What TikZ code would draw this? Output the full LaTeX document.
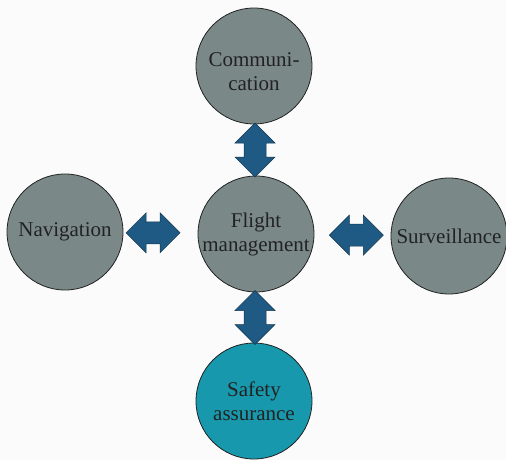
\documentclass[tikz,border=0pt]{standalone}
\usepackage{fontspec}
\setmainfont{Liberation Serif}
\usetikzlibrary{calc}
\definecolor{circgray}{RGB}{122,136,136}
\definecolor{circteal}{RGB}{24,152,172}
\definecolor{arrowblue}{RGB}{30,90,132}
\definecolor{inkdark}{RGB}{34,34,34}
\begin{document}
\begin{tikzpicture}[x=1pt,y=-1pt,
  topic/.style={circle,draw=inkdark,line width=0.8pt,fill=circgray,
    minimum size=116pt,inner sep=0pt,align=center,text=inkdark,
    font=\fontsize{21}{24}\selectfont},
  caption/.style={align=center,text=inkdark,inner sep=0pt,
    font=\fontsize{21}{24}\selectfont},
  blockarrow/.pic={
    \filldraw[fill=arrowblue,draw=arrowblue!60!black,line width=0.5pt]
      (-27,0) -- (-7,-20) -- (-7,-11) -- (7,-11) -- (7,-20) -- (27,0)
      -- (7,20) -- (7,11) -- (-7,11) -- (-7,20) -- cycle;}]
  \fill[white!97!gray] (0,0) rectangle (506,460);
  \useasboundingbox (0,0) rectangle (506,460);
  % the five circles
  \node[topic] (comm) at (254,66) {};
  \node[caption] (commtext) at ($(comm)+(0,6)$) {Communi-\\cation};
  \node[topic] (fm)   at (256,234) {Flight\\management};
  \node[topic] (nav)  at (65,232) {Navigation};
  \node[topic] (surv) at (449,236) {Surveillance};
  \node[topic,fill=circteal] (safe) at (254,401) {Safety\\assurance};
  % block arrows between the centre and each outer circle
  \pic[rotate=90] at ($(comm.south)!0.5!(fm.north)$) {blockarrow};
  \pic[rotate=90] at ($(fm.south)!0.5!(safe.north)$) {blockarrow};
  \pic at ($(nav.east)!0.4!(fm.west)$) {blockarrow};
  \pic at ($(fm.east)!0.55!(surv.west)$) {blockarrow};
\end{tikzpicture}
\end{document}
